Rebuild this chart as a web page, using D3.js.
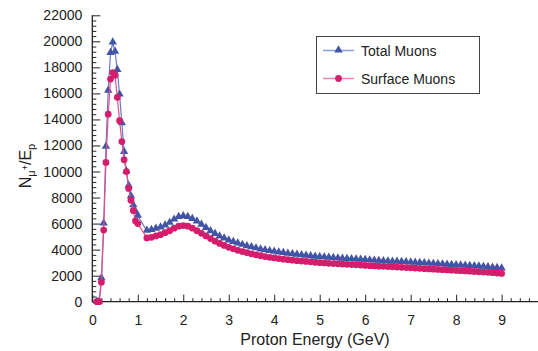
<!DOCTYPE html>
<html><head><meta charset="utf-8">
<script src="https://cdn.jsdelivr.net/npm/d3@7"></script>
<style>body{margin:0;background:#fff}svg{display:block;font-family:"Liberation Sans",Arial,sans-serif}</style>
</head><body>
<svg id="c" width="538" height="351"></svg>
<script>
const energy = [0.1,0.15,0.2,0.25,0.3,0.35,0.4,0.45,0.5,0.55,0.6,0.65,0.7,0.75,0.8,0.85,0.9,0.95,1.0,
1.2,1.3,1.4,1.5,1.6,1.7,1.8,1.9,2.0,2.1,2.2,2.3,2.4,2.5,2.6,2.7,2.8,2.9,3.0,
3.1,3.2,3.3,3.4,3.5,3.6,3.7,3.8,3.9,4.0,4.1,4.2,4.3,4.4,4.5,4.6,4.7,4.8,4.9,5.0,
5.1,5.2,5.3,5.4,5.5,5.6,5.7,5.8,5.9,6.0,6.1,6.2,6.3,6.4,6.5,6.6,6.7,6.8,6.9,7.0,
7.1,7.2,7.3,7.4,7.5,7.6,7.7,7.8,7.9,8.0,8.1,8.2,8.3,8.4,8.5,8.6,8.7,8.8,8.9,9.0];
const totalMuons = [0,0,1800,6000,11900,16200,19100,19900,19200,17800,15900,13700,11500,10000,8900,8100,7400,6900,6600,
5450,5500,5600,5700,5850,6050,6300,6500,6550,6500,6350,6150,5900,5650,5400,5200,5000,4850,4700,
4580,4470,4360,4260,4170,4090,4010,3950,3880,3830,3780,3730,3680,3640,3600,3560,3520,3490,3450,3420,
3400,3370,3350,3320,3300,3280,3250,3230,3210,3190,3170,3150,3130,3110,3090,3070,3060,3040,3020,3000,
2980,2960,2940,2920,2900,2880,2860,2840,2820,2800,2780,2760,2740,2720,2700,2670,2640,2610,2580,2540];
const surfaceMuons = [0,0,1500,5500,10700,14400,17100,17600,17400,15700,13900,12300,10900,10000,8700,7800,7000,6200,6000,
4900,4950,5050,5150,5300,5450,5650,5800,5850,5800,5650,5450,5250,5050,4850,4650,4480,4320,4180,
4060,3950,3850,3760,3680,3600,3530,3470,3410,3360,3310,3270,3230,3190,3150,3120,3090,3060,3030,3000,
2980,2950,2930,2910,2890,2870,2850,2830,2810,2790,2770,2750,2730,2720,2700,2680,2660,2640,2620,2600,
2580,2560,2540,2520,2500,2480,2460,2440,2420,2400,2380,2360,2340,2320,2300,2280,2260,2230,2200,2170];
const seriesNames = ["Total Muons","Surface Muons"];
const xTickValues = [0,1,2,3,4,5,6,7,8,9];
const yTickValues = [0,2000,4000,6000,8000,10000,12000,14000,16000,18000,20000,22000];
const xTitle = "Proton Energy (GeV)";

const svg = d3.select("#c");
const x = d3.scaleLinear().domain([0, 9.8]).range([92.3, 538]);
const y = d3.scaleLinear().domain([0, 22000]).range([301.7, 15.3]);
const axisColor = "#222";

// minor ticks
const xMinor = d3.range(0, 9.81, 0.2).filter(v => Math.abs(v - Math.round(v)) > 1e-6);
const yMinor = d3.range(0, 22001, 400).filter(v => v % 2000 !== 0);

const gx = svg.append("g").attr("transform", `translate(0,${y(0)})`);
gx.call(d3.axisBottom(x).tickValues(xTickValues).tickSize(-7).tickPadding(13).tickFormat(d3.format("d")));
gx.append("g").call(d3.axisBottom(x).tickValues(xMinor).tickSize(-3.5).tickFormat(""));
gx.selectAll(".domain").attr("stroke", axisColor).attr("stroke-width", 1.3).attr("d", `M${x(0)},0H${x(9.8)}`);
gx.selectAll(".tick line").attr("stroke", axisColor).attr("stroke-width", 1);
gx.selectAll("text").attr("font-size", 14).attr("fill", "#222");
gx.selectAll("g g .domain").remove();

const gy = svg.append("g").attr("transform", `translate(${x(0)},0)`);
gy.call(d3.axisLeft(y).tickValues(yTickValues).tickSize(-8).tickPadding(10).tickFormat(d3.format("d")));
gy.append("g").call(d3.axisLeft(y).tickValues(yMinor).tickSize(-4).tickFormat(""));
gy.selectAll(".domain").attr("stroke", axisColor).attr("stroke-width", 1.3).attr("d", `M0,${y(0)}V${y(22000)}`);
gy.selectAll(".tick line").attr("stroke", axisColor).attr("stroke-width", 1);
gy.selectAll("text").attr("font-size", 14).attr("fill", "#222");
gy.selectAll("g g .domain").remove();

// axis titles
svg.append("text").attr("x", 315).attr("y", 345).attr("text-anchor", "middle")
  .attr("font-size", 16).attr("fill", "#222").text(xTitle);
const yt = svg.append("text").attr("transform", "translate(31,166) rotate(-90)")
  .attr("text-anchor", "middle").attr("font-size", 16).attr("fill", "#222");
yt.append("tspan").text("N");
yt.append("tspan").attr("font-size", 11).attr("dy", 4).text("μ");
yt.append("tspan").attr("font-size", 9).attr("dy", -7).text("+");
yt.append("tspan").attr("dy", 3).text("/E");
yt.append("tspan").attr("font-size", 11).attr("dy", 4).text("p");

const blue = "#4254a6", blueLine = "#6a7ac4";
const pink = "#d41d6c", pinkLine = "#e0508f";
const tri = d3.symbol().type(d3.symbolTriangle).size(30);
const circ = d3.symbol().type(d3.symbolCircle).size(36);

const line = d3.line().x(d => x(d[0])).y(d => y(d[1]));
const totalPts = energy.map((e, i) => [e, totalMuons[i]]);
const surfPts = energy.map((e, i) => [e, surfaceMuons[i]]);

svg.append("path").attr("d", line(totalPts)).attr("fill", "none").attr("stroke", blueLine).attr("stroke-width", 1.2);
svg.append("g").selectAll("path").data(totalPts).join("path")
  .attr("transform", d => `translate(${x(d[0])},${y(d[1]) - 0.5})`).attr("d", tri).attr("fill", blue);

svg.append("path").attr("d", line(surfPts)).attr("fill", "none").attr("stroke", pinkLine).attr("stroke-width", 1.2);
svg.append("g").selectAll("path").data(surfPts).join("path")
  .attr("transform", d => `translate(${x(d[0])},${y(d[1])})`).attr("d", circ).attr("fill", pink);

// legend
const lg = svg.append("g");
lg.append("rect").attr("x", 316.5).attr("y", 36.5).attr("width", 163).attr("height", 57)
  .attr("fill", "#fff").attr("stroke", "#444").attr("stroke-width", 1);
const rows = [{name: seriesNames[0], c: blue, lc: "#8e9cd6", sym: tri, yy: 50.5},
              {name: seriesNames[1], c: pink, lc: "#e889b5", sym: circ, yy: 78.5}];
rows.forEach(r => {
  lg.append("line").attr("x1", 323).attr("x2", 354).attr("y1", r.yy).attr("y2", r.yy)
    .attr("stroke", r.lc).attr("stroke-width", 1.5);
  lg.append("path").attr("d", r.sym).attr("transform", `translate(338.5,${r.yy - (r.sym === tri ? 0.5 : 0)})`).attr("fill", r.c);
  lg.append("text").attr("x", 361).attr("y", r.yy + 5).attr("font-size", 14).attr("fill", "#222").text(r.name);
});
</script>
</body></html>
